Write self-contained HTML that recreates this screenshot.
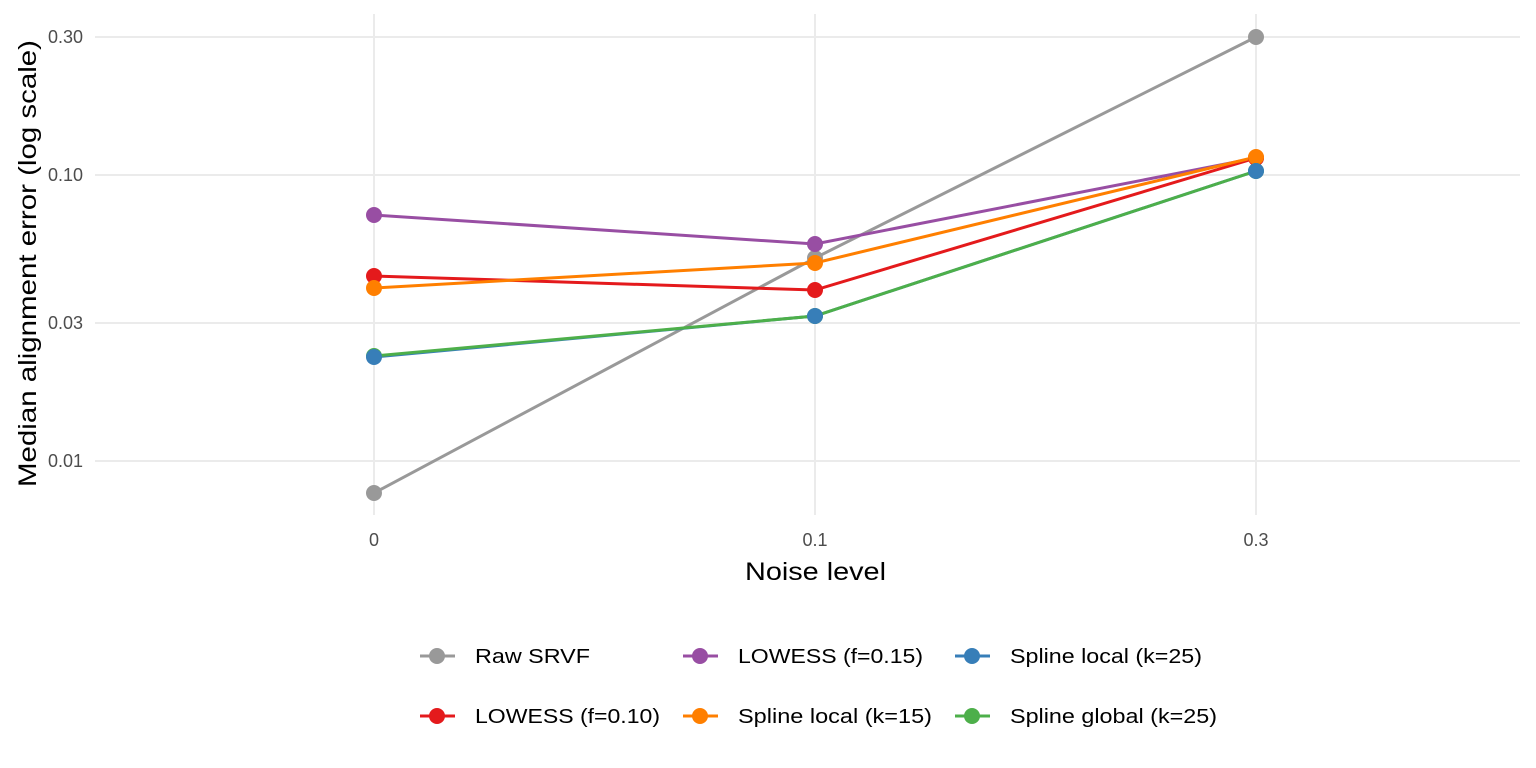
<!DOCTYPE html>
<html><head><meta charset="utf-8"><style>body{margin:0;background:#fff}svg{display:block}</style></head><body>
<svg width="1536" height="768" xmlns="http://www.w3.org/2000/svg" font-family="Liberation Sans, sans-serif">
<g stroke="#ebebeb" stroke-width="2">
<line x1="95" x2="1520" y1="37" y2="37"/><line x1="95" x2="1520" y1="175" y2="175"/>
<line x1="95" x2="1520" y1="323" y2="323"/><line x1="95" x2="1520" y1="461" y2="461"/>
<line x1="374" x2="374" y1="14" y2="515"/><line x1="815" x2="815" y1="14" y2="515"/><line x1="1256" x2="1256" y1="14" y2="515"/>
</g>
<g fill="#4d4d4d" font-size="18" text-anchor="end">
<text x="83" y="43">0.30</text><text x="83" y="181">0.10</text><text x="83" y="329">0.03</text><text x="83" y="467">0.01</text>
</g>
<g fill="#4d4d4d" font-size="18" text-anchor="middle">
<text x="374" y="546">0</text><text x="815" y="546">0.1</text><text x="1256" y="546">0.3</text>
</g>
<text x="745" y="580" font-size="25" fill="#000" textLength="141" lengthAdjust="spacingAndGlyphs">Noise level</text>
<text transform="translate(36,487) rotate(-90)" font-size="25" fill="#000" textLength="447" lengthAdjust="spacingAndGlyphs">Median alignment error (log scale)</text>
<g stroke-width="3" fill="none">
<polyline stroke="#999999" points="374,493 815,258 1256,37"/>
<polyline stroke="#984EA3" points="374,215 815,244 1256,158"/>
<polyline stroke="#E41A1C" points="374,276 815,290 1256,158"/>
<polyline stroke="#FF7F00" points="374,288 815,263 1256,157"/>
<polyline stroke="#377EB8" points="374,357 815,316 1256,171"/>
<polyline stroke="#4DAF4A" points="374,356 815,316 1256,171"/>
</g>
<g>
<circle cx="374" cy="493" r="8" fill="#999999"/><circle cx="815" cy="258" r="8" fill="#999999"/><circle cx="1256" cy="37" r="8" fill="#999999"/>
<circle cx="374" cy="215" r="8" fill="#984EA3"/><circle cx="815" cy="244" r="8" fill="#984EA3"/><circle cx="1256" cy="158" r="8" fill="#984EA3"/>
<circle cx="374" cy="276" r="8" fill="#E41A1C"/><circle cx="815" cy="290" r="8" fill="#E41A1C"/><circle cx="1256" cy="158" r="8" fill="#E41A1C"/>
<circle cx="374" cy="288" r="8" fill="#FF7F00"/><circle cx="815" cy="263" r="8" fill="#FF7F00"/><circle cx="1256" cy="157" r="8" fill="#FF7F00"/>
<circle cx="374" cy="356" r="8" fill="#4DAF4A"/><circle cx="815" cy="316" r="8" fill="#4DAF4A"/><circle cx="1256" cy="171" r="8" fill="#4DAF4A"/>
<circle cx="374" cy="357" r="8" fill="#377EB8"/><circle cx="815" cy="316" r="8" fill="#377EB8"/><circle cx="1256" cy="171" r="8" fill="#377EB8"/>
</g>
<g font-size="20" fill="#000" lengthAdjust="spacingAndGlyphs">
<line x1="420" x2="455" y1="656" y2="656" stroke="#999999" stroke-width="3"/><circle cx="437" cy="656" r="8" fill="#999999"/><text x="475" y="663" textLength="115" lengthAdjust="spacingAndGlyphs">Raw SRVF</text>
<line x1="420" x2="455" y1="716" y2="716" stroke="#E41A1C" stroke-width="3"/><circle cx="437" cy="716" r="8" fill="#E41A1C"/><text x="475" y="723" textLength="185" lengthAdjust="spacingAndGlyphs">LOWESS (f=0.10)</text>
<line x1="683" x2="718" y1="656" y2="656" stroke="#984EA3" stroke-width="3"/><circle cx="700" cy="656" r="8" fill="#984EA3"/><text x="738" y="663" textLength="185" lengthAdjust="spacingAndGlyphs">LOWESS (f=0.15)</text>
<line x1="683" x2="718" y1="716" y2="716" stroke="#FF7F00" stroke-width="3"/><circle cx="700" cy="716" r="8" fill="#FF7F00"/><text x="738" y="723" textLength="194" lengthAdjust="spacingAndGlyphs">Spline local (k=15)</text>
<line x1="955" x2="990" y1="656" y2="656" stroke="#377EB8" stroke-width="3"/><circle cx="972" cy="656" r="8" fill="#377EB8"/><text x="1010" y="663" textLength="192" lengthAdjust="spacingAndGlyphs">Spline local (k=25)</text>
<line x1="955" x2="990" y1="716" y2="716" stroke="#4DAF4A" stroke-width="3"/><circle cx="972" cy="716" r="8" fill="#4DAF4A"/><text x="1010" y="723" textLength="207" lengthAdjust="spacingAndGlyphs">Spline global (k=25)</text>
</g>
</svg>
</body></html>
